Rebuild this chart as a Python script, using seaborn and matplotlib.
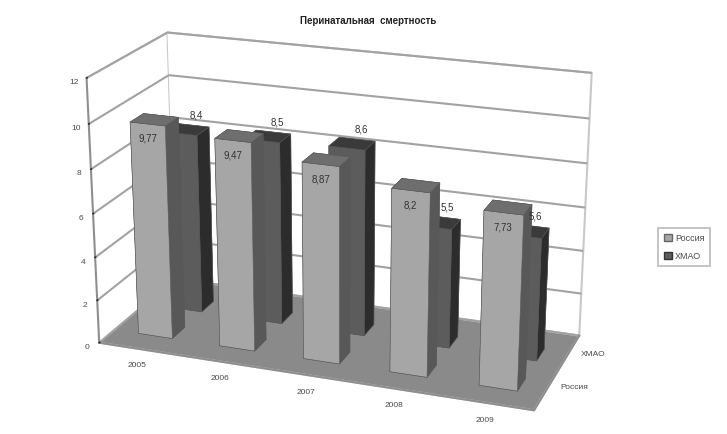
import numpy as np
import matplotlib
matplotlib.use("Agg")
import matplotlib.pyplot as plt
from matplotlib.patches import Patch
import seaborn as sns

years = ["2005", "2006", "2007", "2008", "2009"]
regions = ["Россия", "ХМАО"]
russia = [9.77, 9.47, 8.87, 8.2, 7.73]
khmao = [8.4, 8.5, 8.6, 5.5, 5.6]
z_ticks = [0, 2, 4, 6, 8, 10, 12]

sns.set_theme(style="white")
plt.rcParams["font.family"] = ["Liberation Sans", "DejaVu Sans"]

# face, side, top shades per series
shades = {
    0: sns.color_palette(["#a6a6a6", "#585858", "#6e6e6e"]),
    1: sns.color_palette(["#5c5c5c", "#2c2c2c", "#3a3a3a"]),
}
FLOOR = "#8a8a8a"
GRID = "#a2a2a2"
TEXT = "#4a4a4a"

fig = plt.figure(figsize=(7.27, 4.35), dpi=100, facecolor="white")
ax = fig.add_axes([0.0, 0.0, 0.92, 1.0], projection="3d", computed_zorder=False)
ax.view_init(elev=20, azim=-70)
ax.set_proj_type("persp", focal_length=0.8)
ax.set_box_aspect((480, 195, 295), zoom=1.265)

ax.set_xlim(0, 5)
ax.set_ylim(0, 2)
ax.set_zlim(0, 12)

ax.xaxis.set_pane_color((1, 1, 1, 1))
ax.yaxis.set_pane_color((1, 1, 1, 1))
ax.zaxis.set_pane_color(matplotlib.colors.to_rgba(FLOOR))
for axis in (ax.xaxis, ax.yaxis, ax.zaxis):
    axis.pane.set_edgecolor("#c8c8c8")
    axis.pane.set_linewidth(1.5)
    axis.line.set_color("#8e8e8e")
    axis.line.set_linewidth(1.5)
    axis._axinfo["grid"].update(color=GRID, linewidth=1.5)
for axis in (ax.xaxis, ax.yaxis):
    axis._axinfo["tick"].update(inward_factor=0.0, outward_factor=0.0)
ax.zaxis._axinfo["tick"].update(inward_factor=0.0, outward_factor=0.08)

ax.zaxis.set_ticks_position("lower")
ax.zaxis.set_label_position("lower")
ax.set_xticks(np.arange(5) + 0.5, years)
ax.set_yticks([1.0, 1.9], regions)
ax.set_zticks(z_ticks, [str(t) for t in z_ticks])
ax.xaxis._axinfo["grid"].update(linewidth=0)
ax.yaxis._axinfo["grid"].update(linewidth=0)
ax.tick_params(axis="both", labelsize=6, labelcolor=TEXT, pad=-2)
ax.tick_params(axis="z", pad=-4)

BAR_W, BAR_D, X_OFF = 0.42, 0.33, 0.30
Y_START = {0: 0.38, 1: 1.18}

def fmt(v):
    return f"{v:g}".replace(".", ",")

# far series first, left to right, so nearer bars paint over farther ones
for s, values in ((1, khmao), (0, russia)):
    face, side, top = shades[s]
    # bar3d face order: bottom, top, -y, +y, -x, +x
    colors = [side, top, face, side, side, side]
    y0 = Y_START[s]
    for i, v in enumerate(values):
        order = 10 + (1 - s) * 10 + i
        ax.bar3d(i + X_OFF, y0, 0, BAR_W, BAR_D, v, color=colors,
                 shade=False, edgecolor="#5a5a5a", linewidth=0.4, zorder=order)
        if s == 0:
            lx, ly, lz = i + X_OFF + BAR_W / 2, y0, v - 0.6
        else:
            lx, ly, lz = i + X_OFF + BAR_W / 2 + 0.05, y0 + BAR_D, v + 0.5
        ax.text(lx, ly, lz, fmt(v), ha="center", va="center", fontsize=7,
                color="#333333", zorder=40)

fig.text(0.507, 0.952, "Перинатальная  смертность", ha="center", va="center",
         fontsize=7, fontweight="bold", color="#222222")

handles = [Patch(facecolor=shades[0][0], edgecolor="#666666", label=regions[0]),
           Patch(facecolor=shades[1][0], edgecolor="#333333", label=regions[1])]
leg = fig.legend(handles=handles, loc="center left", bbox_to_anchor=(0.899, 0.43),
                 fontsize=6.5, frameon=True, fancybox=False, edgecolor="#a8a8a8",
                 handlelength=0.9, handleheight=0.9, handletextpad=0.4,
                 labelspacing=1.0, borderpad=0.6, labelcolor=TEXT)
leg.get_frame().set_linewidth(1.2)

fig.savefig("out.png", dpi=100)
